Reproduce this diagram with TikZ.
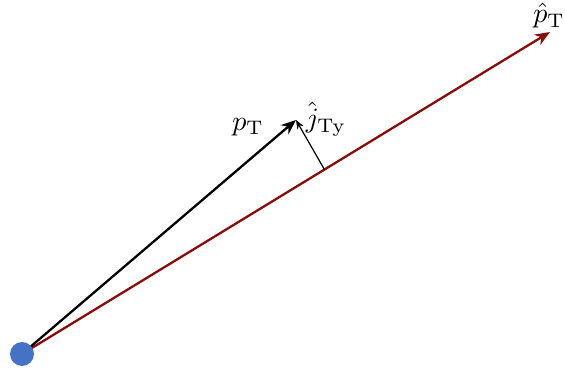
\documentclass[tikz,border=0pt]{standalone}
\usepackage{graphicx}
\usetikzlibrary{arrows.meta}
\definecolor{dotblue}{RGB}{68,114,196}
\definecolor{vecred}{RGB}{139,10,10}
\newcommand{\biglbl}[1]{\scalebox{2.8}{#1}}
\begin{document}
\begin{tikzpicture}[x=1pt,y=-1pt,
  lbl/.style={inner sep=0pt},
  thick vec/.style={line width=2.3pt,-{Stealth[length=15pt,width=12pt]}},
  thin vec/.style={line width=1.2pt,-{Stealth[length=9pt,width=7pt]}}]
\useasboundingbox (0,0) rectangle (565,371);
\coordinate (O) at (22,354);
\coordinate (P) at (550,32);
\coordinate (Q) at (296,120);
\coordinate (F) at (324.6,169.8);
\draw[thick vec,vecred] (O) -- (P);
\draw[thick vec,black] (O) -- (Q);
\draw[thin vec] (F) -- (Q);
\fill[dotblue] (O) circle (12);
\node[lbl] (pt) at (248,127) {\biglbl{$p_{\mathrm{T}}$}};
\node[lbl] (jt) at (326,119) {\biglbl{$\hat{j}_{\mathrm{Ty}}$}};
\node[lbl] (ph) at (549,16) {\biglbl{$\hat{p}_{\mathrm{T}}$}};
\end{tikzpicture}
\end{document}
